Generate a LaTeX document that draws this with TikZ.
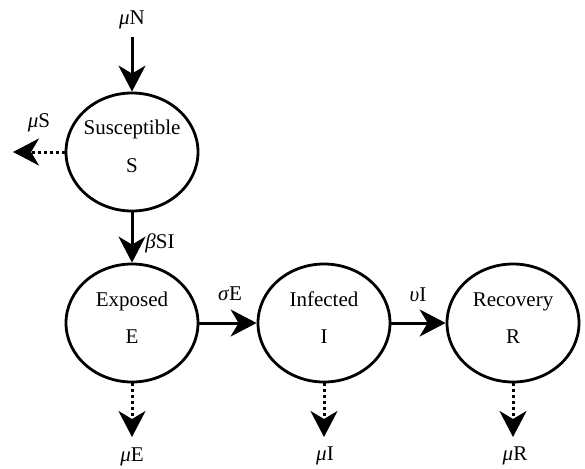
\documentclass[tikz,border=0pt]{standalone}
\usepackage{fontspec}
\setmainfont{Liberation Serif}
\usetikzlibrary{shapes.geometric,arrows.meta}
\begin{document}
\begin{tikzpicture}[x=1pt,y=-1pt,
 state/.style={draw, ellipse, line width=2.8pt, minimum width=132pt, minimum height=118pt, inner sep=0pt},
 txt/.style={anchor=base, inner sep=0pt, font=\fontsize{21}{25}\selectfont},
 flow/.style={line width=3pt, -{Stealth[length=26pt,width=27pt,inset=8pt]}},
 loss/.style={flow, dash pattern=on 3pt off 3pt}]
\useasboundingbox (0,0) rectangle (585,468);
% compartments
\node[state] (S) at (132,152) {};
\node[state] (E) at (132,323) {};
\node[state] (I) at (324,323) {};
\node[state] (R) at (513,323) {};
% compartment texts
\node[txt] (Sname) at (132,134) {Susceptible};
\node[txt] (Sl) at (132,172) {S};
\node[txt] (Ename) at (132,306) {Exposed};
\node[txt] (El) at (132,343) {E};
\node[txt] (Iname) at (324,306) {Infected};
\node[txt] (Il) at (324,343) {I};
\node[txt] (Rname) at (513,306) {Recovery};
\node[txt] (Rl) at (513,343) {R};
% rate labels
\node[txt] (muN) at (132,25) {\textit{μ}N};
\node[txt] (muS) at (39,127) {\textit{μ}S};
\node[txt] (bSI) at (160,248) {\textit{β}SI};
\node[txt] (sE) at (230,300) {\textit{σ}E};
\node[txt] (uI) at (418,301) {\textit{υ}I};
\node[txt] (muE) at (132,461) {\textit{μ}E};
\node[txt] (muI) at (325,460) {\textit{μ}I};
\node[txt] (muR) at (515,460) {\textit{μ}R};
% free ends
\coordinate (inN) at (132,37);
\coordinate (outS) at (13,152);
\coordinate (outE) at (132,437);
\coordinate (outI) at (324,437);
\coordinate (outR) at (513,437);
% flows
\draw[flow] (inN) -- (S);
\draw[loss] (S) -- (outS);
\draw[flow] (S) -- (E);
\draw[flow] (E) -- (I);
\draw[flow] (I) -- (R);
\draw[loss] (E) -- (outE);
\draw[loss] (I) -- (outI);
\draw[loss] (R) -- (outR);
\end{tikzpicture}
\end{document}
